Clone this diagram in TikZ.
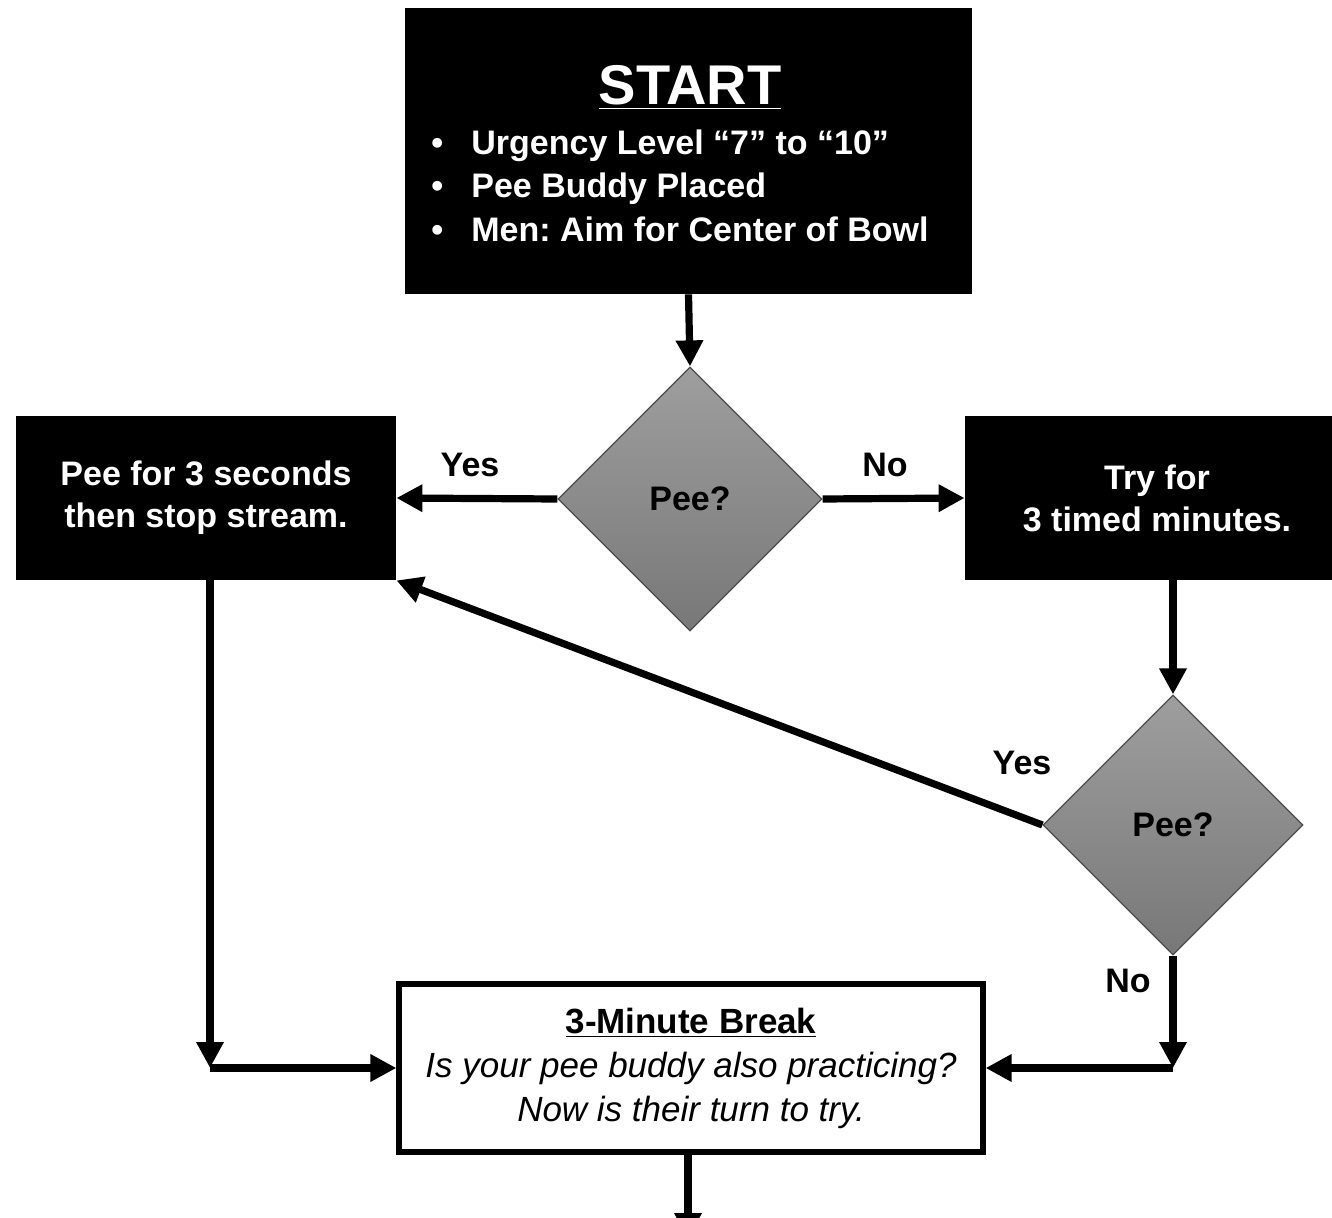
\documentclass[tikz,border=0pt]{standalone}
\usepackage{fontspec}
\setmainfont{Liberation Sans}
\usetikzlibrary{shapes.geometric,arrows.meta,calc}
\frenchspacing
\begin{document}
\begin{tikzpicture}[x=0.5pt,y=-0.5pt,
  conn/.style={line width=3.6pt,-{Triangle[length=13pt,width=13pt]}},
  blackbox/.style={rectangle,fill=black,text=white,font=\fontsize{17}{21}\selectfont\bfseries,align=center,inner sep=0pt},
  whitebox/.style={rectangle,draw=black,line width=2.6pt,fill=white,align=center,inner sep=0pt},
  dec/.style={diamond,aspect=1,draw=black!70,line width=0.6pt,top color=black!38,bottom color=black!53,inner sep=0pt,font=\fontsize{17}{20}\selectfont\bfseries},
  lbl/.style={font=\fontsize{17}{20}\selectfont\bfseries,inner sep=0pt},
  wtxt/.style={text=white,font=\fontsize{17}{20}\selectfont\bfseries,inner sep=0pt,anchor=base west},
]
\useasboundingbox (0,0) rectangle (1332,1218);
\clip (0,0) rectangle (1332,1218);

% START box
\node[blackbox,minimum width=283.5pt,minimum height=143pt] (start) at (688.5,151) {};
\node[text=white,font=\fontsize{28}{30}\selectfont\bfseries,inner sep=0pt,anchor=base] (title) at (690,105) {\underline{START}};
\node[wtxt] (b1) at (431,155) {•};
\node[wtxt] (b2) at (431,198) {•};
\node[wtxt] (b3) at (431,242) {•};
\node[wtxt] (t1) at (471,155) {Urgency Level “7” to “10”};
\node[wtxt] (t2) at (471,198) {Pee Buddy Placed};
\node[wtxt] (t3) at (471,242) {Men: Aim for Center of Bowl};

% decisions
\node[dec,minimum width=132pt,minimum height=132pt] (d1) at (690,499) {Pee?};
\node[dec,minimum width=130pt,minimum height=130pt] (d2) at (1173,825) {Pee?};

% side boxes
\node[blackbox,minimum width=190pt,minimum height=82pt] (left) at (206,498) {Pee for 3 seconds\\then stop stream.};
\node[blackbox,minimum width=192pt,minimum height=82pt] (right) at (1157,498) {Try for\\3 timed minutes.};

% bottom box
\node[whitebox,minimum width=292pt,minimum height=84pt,font=\fontsize{17.5}{22}\selectfont] (brk) at (691,1068)
  {{\bfseries\underline{3-Minute Break}}\\\itshape Is your pee buddy also practicing?\\\itshape Now is their turn to try.};

% coordinates
\coordinate (lc) at (210,1068);
\coordinate (rc) at (1173,1068);
\coordinate (bend) at (688,1239);

% connectors
\draw[conn] (start.south) -- (d1.north);
\draw[conn] (d1.west) -- (left.east);
\draw[conn] (d1.east) -- (right.west);
\draw[conn] (d2.north |- right.south) -- (d2.north);
\draw[conn] (d2.west) -- (left.south east);
\draw[conn] (d2.south) -- (rc);
\draw[conn] (rc) -- (brk.east);
\draw[conn] (lc |- left.south) -- (lc);
\draw[conn] (lc) -- (brk.west);
\draw[conn] (brk.south -| bend) -- (bend);

% labels
\node[lbl] (yes1) at (470,465) {Yes};
\node[lbl] (no1) at (885,465) {No};
\node[lbl] (yes2) at (1022,763) {Yes};
\node[lbl] (no2) at (1128,981) {No};
\end{tikzpicture}
\end{document}
